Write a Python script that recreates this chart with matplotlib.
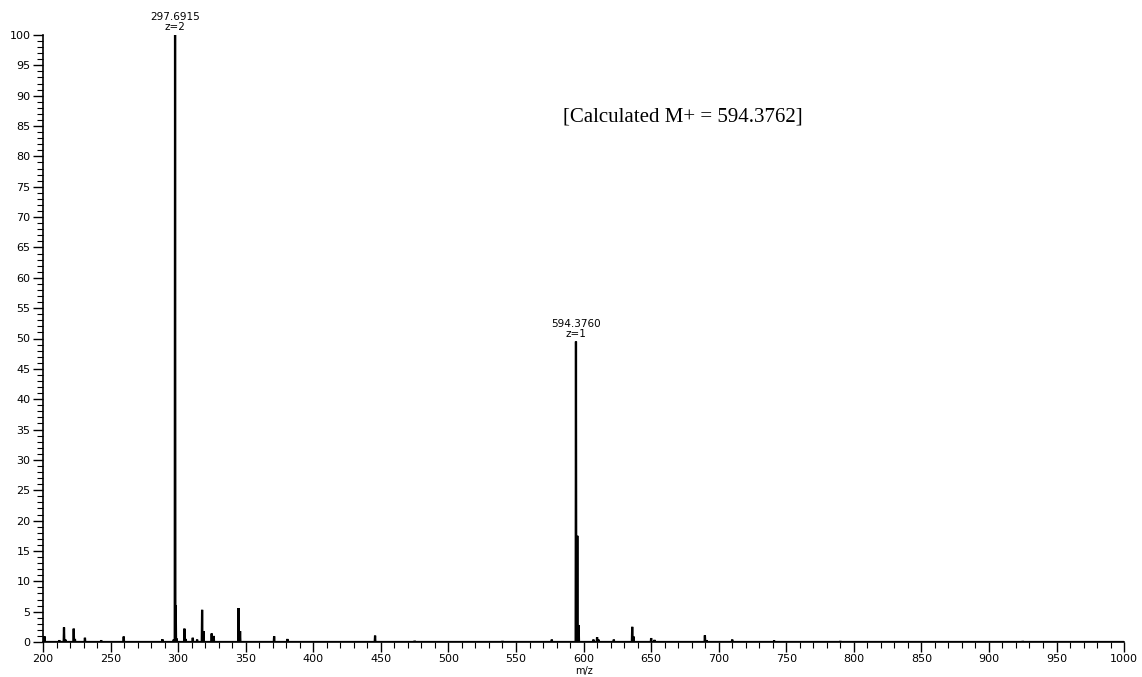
import matplotlib.pyplot as plt
import numpy as np
from matplotlib.ticker import MultipleLocator

# peak list (m/z, relative abundance %)
mz = [201.0, 212.0, 215.5, 216.5, 222.7, 223.6, 231.0, 243.0, 259.7, 288.3,
      296.7, 297.69, 298.19, 298.69, 304.6, 305.6, 310.8, 314.0, 317.7, 318.7,
      324.8, 326.3, 344.6, 345.8, 371.0, 380.8, 445.7, 475.0, 540.0, 576.5,
      594.376, 595.38, 596.38, 607.3, 610.0, 611.0, 622.4, 636.0, 637.0, 650.0,
      652.5, 689.8, 691.0, 710.0, 741.0, 790.0, 925.0]
intensity = [0.95, 0.3, 2.4, 0.4, 2.2, 0.5, 0.7, 0.3, 0.9, 0.45,
             0.4, 100.0, 6.0, 0.6, 2.2, 0.5, 0.7, 0.4, 5.3, 1.8,
             1.4, 1.0, 5.6, 1.8, 0.95, 0.5, 1.05, 0.2, 0.15, 0.4,
             49.5, 17.5, 2.8, 0.4, 0.8, 0.4, 0.4, 2.5, 0.9, 0.65,
             0.35, 1.1, 0.3, 0.4, 0.25, 0.15, 0.15]

labels = [(297.6915, 100.0, "297.6915\nz=2"), (594.3760, 49.5, "594.3760\nz=1")]
note = "[Calculated M+ = 594.3762]"

# build a stick-like profile trace
xs, ys = [200.0], [0.0]
for m, h in sorted(zip(mz, intensity)):
    xs += [m - 0.25, m, m + 0.25]
    ys += [0.0, h, 0.0]
xs.append(1000.0)
ys.append(0.0)

fig = plt.figure(figsize=(11.42, 6.77), dpi=100)
ax = fig.add_axes([0.0377, 0.0517, 0.9466, 0.8966])
ax.plot(xs, ys, color="black", linewidth=1.6, solid_joinstyle="miter")

ax.set_xlim(200, 1000)
ax.set_ylim(0, 100)
ax.spines["top"].set_visible(False)
ax.spines["right"].set_visible(False)
ax.spines["left"].set_linewidth(1.2)
ax.spines["bottom"].set_linewidth(1.2)

ax.xaxis.set_major_locator(MultipleLocator(50))
ax.xaxis.set_minor_locator(MultipleLocator(10))
ax.yaxis.set_major_locator(MultipleLocator(5))
ax.yaxis.set_minor_locator(MultipleLocator(1))
ax.tick_params(which="major", length=7, width=1, labelsize=8, pad=2)
ax.tick_params(which="minor", length=4, width=0.8)
for lab in ax.get_xticklabels() + ax.get_yticklabels():
    lab.set_family("DejaVu Sans")

ax.set_xlabel("m/z", fontsize=7, family="DejaVu Sans", labelpad=1)

for x, y, txt in labels:
    ax.annotate(txt, (x, y), xytext=(0, 2), textcoords="offset points",
                ha="center", va="bottom", fontsize=7.5,
                family="DejaVu Sans", linespacing=1.0, annotation_clip=False)

ax.text(584.9, 86.5, note, fontsize=15, family="Liberation Serif",
        ha="left", va="center")

plt.savefig("out.png", dpi=100)
plt.close()
